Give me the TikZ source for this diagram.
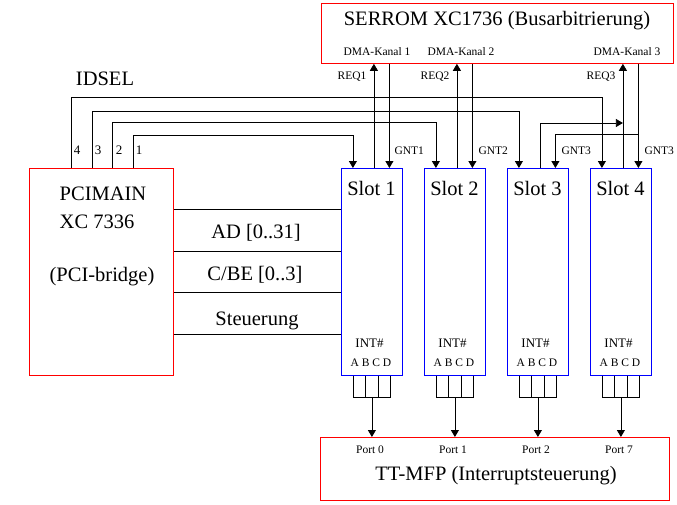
\documentclass[tikz,border=0pt]{standalone}
\usepackage{fontspec}
\setmainfont{Liberation Serif}
\usetikzlibrary{calc,arrows.meta}
\def\intlines(#1){%
	\draw[wire] ($(#1.south)+(-18.5,0)$) -- ++(0,22) -- ++(37,0) -- ++(0,-22);
	\draw[wire] ($(#1.south)+(-6.2,0)$) -- ++(0,22);
	\draw[wire] ($(#1.south)+(6.2,0)$) -- ++(0,22);
	\draw[sig] ($(#1.south)+(0,22)$) -- (#1.south |- mfp.north);
}
\tikzset{
	wire/.style={line width=0.8pt},
	sig/.style={wire, -{Triangle[length=7pt,width=8pt]}},
	redbox/.style={draw=red, line width=0.8pt, inner sep=0pt, anchor=north west},
	slotbox/.style={draw=blue, line width=0.8pt, inner sep=0pt, anchor=north west, minimum width=61pt, minimum height=207pt},
	big/.style={font=\fontsize{20.5}{24}\selectfont},
	mid/.style={font=\fontsize{13}{15}\selectfont},
	small/.style={font=\fontsize{11.5}{13}\selectfont},
}
\begin{document}
\begin{tikzpicture}[x=1pt,y=-1pt]
			%%%%% START %%%%%
			\useasboundingbox (0,0) rectangle (677,504);
			
			\node[redbox, minimum width=352pt, minimum height=60pt] (serrom) at (321,3) {};
			\node[big] (serromtext) at (497,21) {SERROM XC1736 (Busarbitrierung)};
			\node[small] (dma1) at (377,52) {DMA-Kanal 1};
			\node[small] (dma2) at (461,52) {DMA-Kanal 2};
			\node[small] (dma3) at (627,52) {DMA-Kanal 3};
			
			\node[redbox, minimum width=144pt, minimum height=207pt] (pci) at (29,168) {};
			\node[big] (pcitext) at (103,194) {PCIMAIN};
			\node[big] (xctext) at (97,222) {XC 7336};
			\node[big] (bridgetext) at (102,277) {(PCI-bridge)};
			
			\node[redbox, minimum width=349pt, minimum height=63pt] (mfp) at (320,437) {};
			\node[big] (mfptext) at (496,476) {TT-MFP (Interruptsteuerung)};
			
			\node[slotbox] (slot1) at (341,168) {};
			\node[slotbox] (slot2) at (424,168) {};
			\node[slotbox] (slot3) at (507,168) {};
			\node[slotbox] (slot4) at (590,168) {};
			\node[big] (slottext1) at (371.5,188) {Slot 1};
			\node[big] (slottext2) at (454.5,188) {Slot 2};
			\node[big] (slottext3) at (537.5,188) {Slot 3};
			\node[big] (slottext4) at (620.5,188) {Slot 4};
			\node[mid] (int1) at (369.5,343) {INT\#};
			\node[mid] (int2) at (452.5,343) {INT\#};
			\node[mid] (int3) at (535.5,343) {INT\#};
			\node[mid] (int4) at (618.5,343) {INT\#};
			\node[small] (abcd1) at (371,363) {A B C D};
			\node[small] (abcd2) at (454,363) {A B C D};
			\node[small] (abcd3) at (537,363) {A B C D};
			\node[small] (abcd4) at (620,363) {A B C D};
			
			\node[small] (port0) at (370,450) {Port 0};
			\node[small] (port1) at (453,450) {Port 1};
			\node[small] (port2) at (536,450) {Port 2};
			\node[small] (port7) at (619,450) {Port 7};
			
			% bus
			\coordinate (bus1) at ($(pci.north east)+(0,41)$);
			\coordinate (bus2) at ($(pci.north east)+(0,83)$);
			\coordinate (bus3) at ($(pci.north east)+(0,124)$);
			\coordinate (bus4) at ($(pci.north east)+(0,166)$);
			\draw[wire] (bus1) -- (bus1 -| slot1.west);
			\draw[wire] (bus2) -- (bus2 -| slot1.west);
			\draw[wire] (bus3) -- (bus3 -| slot1.west);
			\draw[wire] (bus4) -- (bus4 -| slot1.west);
			\node[big] (adtext) at (256,233) {AD [0..31]};
			\node[big] (cbetext) at (255,275) {C/BE [0..3]};
			\node[big] (steutext) at (257,321) {Steuerung};
			
			% IDSEL
			\coordinate (id1) at ($(pci.north west)+(104,0)$);
			\coordinate (id2) at ($(pci.north west)+(83,0)$);
			\coordinate (id3) at ($(pci.north west)+(63,0)$);
			\coordinate (id4) at ($(pci.north west)+(42,0)$);
			\coordinate (sel1) at ($(slot1.north)+(-19,0)$);
			\coordinate (sel2) at ($(slot2.north)+(-19,0)$);
			\coordinate (sel3) at ($(slot3.north)+(-19,0)$);
			\coordinate (sel4) at ($(slot4.north)+(-19,0)$);
			\draw[sig] (id1) -- ++(0,-33) -| (sel1);
			\draw[sig] (id2) -- ++(0,-46) -| (sel2);
			\draw[sig] (id3) -- ++(0,-57) -| (sel3);
			\draw[sig] (id4) -- ++(0,-71) -| (sel4);
			\node[big] (idseltext) at (105,79) {IDSEL};
			\node[mid] (num4) at (77,150) {4};
			\node[mid] (num3) at (98,150) {3};
			\node[mid] (num2) at (119,150) {2};
			\node[mid] (num1) at (139,150) {1};
			
			% REQ / GNT
			\coordinate (req1) at ($(slot1.north)+(2,0)$);
			\coordinate (req2) at ($(slot2.north)+(2,0)$);
			\coordinate (req3) at ($(slot3.north)+(2,0)$);
			\coordinate (req4) at ($(slot4.north)+(2,0)$);
			\coordinate (gnt1) at ($(slot1.north)+(17.5,0)$);
			\coordinate (gnt2) at ($(slot2.north)+(17.5,0)$);
			\coordinate (gnt3) at ($(slot3.north)+(17.5,0)$);
			\coordinate (gnt4) at ($(slot4.north)+(17.5,0)$);
			\draw[sig] (req1) -- (req1 |- serrom.south);
			\draw[sig] (gnt1 |- serrom.south) -- (gnt1);
			\draw[sig] (req2) -- (req2 |- serrom.south);
			\draw[sig] (gnt2 |- serrom.south) -- (gnt2);
			\draw[sig] (req4) -- (req4 |- serrom.south);
			\draw[sig] (gnt4 |- serrom.south) -- (gnt4);
			\draw[sig] (req3) |- ($(req4)+(0,-45)$);
			\draw[sig] ($(gnt4)+(0,-34)$) -| (gnt3);
			\node[small,anchor=east] (reqtext1) at (370,77) {REQ1};
			\node[small,anchor=east] (reqtext2) at (453,77) {REQ2};
			\node[small,anchor=east] (reqtext3) at (619,77) {REQ3};
			\node[small,anchor=west] (gnttext1) at (391,151) {GNT1};
			\node[small,anchor=west] (gnttext2) at (475,151) {GNT2};
			\node[small,anchor=west] (gnttext3) at (558,151) {GNT3};
			\node[small,anchor=west] (gnttext4) at (641,151) {GNT3};
			
			% INT#
			\intlines(slot1)
			\intlines(slot2)
			\intlines(slot3)
			\intlines(slot4)
			
			%%%%% END %%%%%
		\end{tikzpicture}
\end{document}
